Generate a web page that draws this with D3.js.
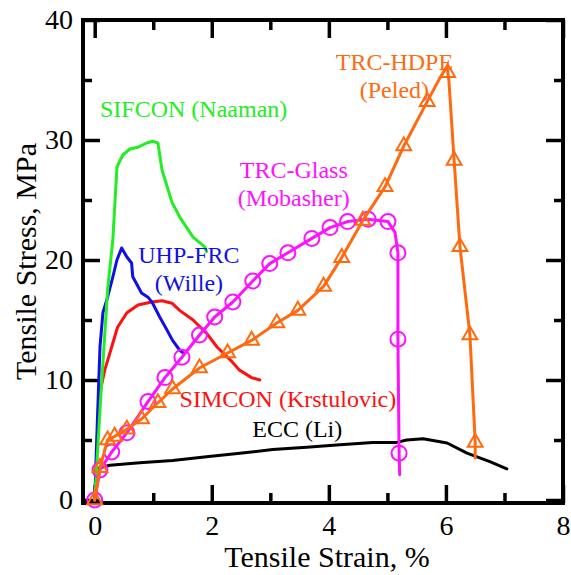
<!DOCTYPE html>
<html>
<head>
<meta charset="utf-8">
<script src="https://cdn.jsdelivr.net/npm/d3@7"></script>
<style>
  html, body { margin: 0; padding: 0; background: #fff; }
  svg { display: block; }
  text { font-family: "Liberation Serif", "Times New Roman", "DejaVu Serif", serif; }
</style>
</head>
<body>
<svg id="chart" width="571" height="575"></svg>
<script>
// ---------------- data (strain %, stress MPa) ----------------
const xMajorTicks = [0, 2, 4, 6, 8];
const xMinorTicks = [1, 3, 5, 7];
const yMajorTicks = [0, 10, 20, 30, 40];
const yMinorTicks = [5, 15, 25, 35];

const eccStrain   = [0, 0.03, 0.09, 0.26, 0.77, 1.33, 1.91, 2.48, 3.04, 3.62, 4.19, 4.75, 5.16, 5.33, 5.61, 6.02, 6.36, 6.75, 7.04];
const eccStress   = [0, 2.5, 2.7, 2.9, 3.1, 3.3, 3.6, 3.9, 4.2, 4.4, 4.6, 4.8, 4.8, 5.0, 5.1, 4.75, 3.9, 3.2, 2.6];

const simconStrain = [0, 0.03, 0.05, 0.10, 0.17, 0.29, 0.39, 0.55, 0.74, 0.97, 1.15, 1.32, 1.45, 1.68, 1.91, 2.09, 2.31, 2.48, 2.68, 2.82];
const simconStress = [0, 3.3, 5.8, 9.2, 10.8, 12.75, 14.4, 15.6, 16.25, 16.5, 16.6, 16.4, 15.8, 15.0, 13.9, 12.75, 11.7, 10.8, 10.2, 10.0];

const uhpStrain = [0, 0.05, 0.09, 0.14, 0.22, 0.31, 0.38, 0.46, 0.55, 0.63, 0.65, 0.80, 0.91, 0.99, 1.11, 1.23, 1.33, 1.45, 1.50];
const uhpStress = [0, 7.25, 12.75, 15.6, 16.9, 18.6, 20.0, 21.0, 20.25, 19.75, 18.6, 17.25, 16.9, 16.4, 15.25, 14.2, 13.3, 12.5, 12.3];

const sifconStrain = [0, 0.10, 0.22, 0.31, 0.38, 0.48, 0.60, 0.74, 0.89, 0.99, 1.08, 1.15, 1.32, 1.45, 1.68, 1.88, 1.91];
const sifconStress = [0, 8.3, 17.5, 21.7, 27.75, 28.75, 29.25, 29.4, 29.75, 29.9, 29.75, 27.5, 24.8, 23.6, 21.9, 21.1, 20.7];

const glassLineStrain = [0, 0.09, 0.29, 0.55, 0.91, 1.20, 1.49, 1.79, 2.05, 2.36, 2.70, 2.99, 3.30, 3.71, 4.02, 4.32, 4.67, 5.01, 5.13, 5.18, 5.18, 5.20, 5.21];
const glassLineStress = [0, 2.5, 4.0, 5.6, 8.2, 10.2, 11.9, 13.75, 15.25, 16.5, 18.25, 19.7, 20.6, 21.8, 22.7, 23.2, 23.4, 23.2, 22.3, 20.6, 13.4, 3.9, 2.1];
const glassMarkStrain = [0, 0.09, 0.29, 0.55, 0.91, 1.20, 1.49, 1.79, 2.05, 2.36, 2.70, 2.99, 3.30, 3.71, 4.02, 4.32, 4.67, 5.01, 5.18, 5.18, 5.20];
const glassMarkStress = [0, 2.5, 4.0, 5.6, 8.2, 10.2, 11.9, 13.75, 15.25, 16.5, 18.25, 19.7, 20.6, 21.8, 22.7, 23.2, 23.4, 23.2, 20.6, 13.4, 3.9];

const hdpeLineStrain = [0, 0.09, 0.22, 0.34, 0.55, 0.80, 1.08, 1.33, 1.79, 2.27, 2.68, 3.11, 3.47, 3.91, 4.22, 4.58, 4.96, 5.28, 5.68, 5.90, 6.02, 6.05, 6.14, 6.24, 6.41, 6.50, 6.50];
const hdpeLineStress = [0, 2.7, 5.0, 5.3, 5.9, 6.75, 8.1, 9.25, 11.0, 12.25, 13.3, 14.75, 15.8, 17.8, 20.2, 23.3, 26.1, 29.5, 33.2, 35.2, 36.1, 35.0, 28.3, 21.1, 13.75, 4.8, 3.5];
const hdpeMarkStrain = [0, 0.09, 0.22, 0.34, 0.55, 0.80, 1.08, 1.33, 1.79, 2.27, 2.68, 3.11, 3.47, 3.91, 4.22, 4.58, 4.96, 5.28, 5.68, 6.03, 6.14, 6.24, 6.41, 6.50];
const hdpeMarkStress = [0, 2.7, 5.0, 5.3, 5.9, 6.75, 8.1, 9.25, 11.0, 12.25, 13.3, 14.75, 15.8, 17.8, 20.2, 23.3, 26.1, 29.5, 33.2, 35.6, 28.3, 21.1, 13.75, 4.8];

const seriesLabels = [
  { lines: ["SIFCON (Naaman)"], x: 1.69, y: 31.9, color: "#22ee22" },
  { lines: ["UHP-FRC", "(Wille)"], x: 1.61, y: 19.75, color: "#1010e6" },
  { lines: ["TRC-Glass", "(Mobasher)"], x: 3.40, y: 26.8, color: "#ff10ff" },
  { lines: ["TRC-HDPE", "(Peled)"], x: 5.12, y: 35.8, color: "#ff6a10" },
  { lines: ["SIMCON (Krstulovic)"], x: 3.30, y: 7.75, color: "#ff1010" },
  { lines: ["ECC (Li)"], x: 3.46, y: 5.25, color: "#000000" }
];

// ---------------- chart ----------------
const svg = d3.select("#chart");
const FONT = "Liberation Serif, Times New Roman, DejaVu Serif, serif";
const L = 83, R = 563, T = 20, B = 503;
const x = d3.scaleLinear().domain([-0.2, 8]).range([L, R]);
const y = d3.scaleLinear().domain([-0.25, 40]).range([B, T]);

const zip = (a, b) => a.map((v, i) => [v, b[i]]);
const line = d3.line().x(d => x(d[0])).y(d => y(d[1]));

function styleAxis(g) {
  g.attr("font-family", FONT);
  g.select(".domain").remove();
  g.selectAll(".tick line").attr("stroke", "#000").attr("stroke-width", 3.5);
  g.selectAll(".tick text").attr("font-size", 28).attr("fill", "#000").attr("font-family", FONT);
}

// major & minor ticks (inward)
svg.append("g").attr("transform", `translate(0,${B})`)
  .call(d3.axisBottom(x).tickValues(xMajorTicks).tickSizeInner(-18).tickSizeOuter(0).tickPadding(12).tickFormat(d3.format("d")))
  .call(styleAxis);
svg.append("g").attr("transform", `translate(0,${B})`)
  .call(d3.axisBottom(x).tickValues(xMinorTicks).tickSizeInner(-10).tickSizeOuter(0).tickFormat(""))
  .call(styleAxis);
svg.append("g").attr("transform", `translate(0,${T})`)
  .call(d3.axisTop(x).tickValues(xMajorTicks).tickSizeInner(-18).tickSizeOuter(0).tickFormat(""))
  .call(styleAxis);
svg.append("g").attr("transform", `translate(0,${T})`)
  .call(d3.axisTop(x).tickValues(xMinorTicks).tickSizeInner(-10).tickSizeOuter(0).tickFormat(""))
  .call(styleAxis);
svg.append("g").attr("transform", `translate(${L},0)`)
  .call(d3.axisLeft(y).tickValues(yMajorTicks).tickSizeInner(-17).tickSizeOuter(0).tickPadding(10).tickFormat(d3.format("d")))
  .call(styleAxis);
svg.append("g").attr("transform", `translate(${L},0)`)
  .call(d3.axisLeft(y).tickValues(yMinorTicks).tickSizeInner(-9).tickSizeOuter(0).tickFormat(""))
  .call(styleAxis);
svg.append("g").attr("transform", `translate(${R},0)`)
  .call(d3.axisRight(y).tickValues(yMajorTicks).tickSizeInner(-17).tickSizeOuter(0).tickFormat(""))
  .call(styleAxis);
svg.append("g").attr("transform", `translate(${R},0)`)
  .call(d3.axisRight(y).tickValues(yMinorTicks).tickSizeInner(-9).tickSizeOuter(0).tickFormat(""))
  .call(styleAxis);

// frame
svg.append("rect").attr("x", L).attr("y", T).attr("width", R - L).attr("height", B - T)
  .attr("fill", "none").attr("stroke", "#000").attr("stroke-width", 4);

// curves
const curves = [
  { data: zip(eccStrain, eccStress), color: "#000000" },
  { data: zip(simconStrain, simconStress), color: "#ff1010" },
  { data: zip(uhpStrain, uhpStress), color: "#1010e6" },
  { data: zip(sifconStrain, sifconStress), color: "#22ee22" },
];
curves.forEach(c => {
  svg.append("path").datum(c.data).attr("d", line)
    .attr("fill", "none").attr("stroke", c.color).attr("stroke-width", 3)
    .attr("stroke-linejoin", "round").attr("stroke-linecap", "round");
});

// TRC-Glass
const glassColor = "#ff10ff";
svg.append("path").datum(zip(glassLineStrain, glassLineStress)).attr("d", line)
  .attr("fill", "none").attr("stroke", glassColor).attr("stroke-width", 3)
  .attr("stroke-linejoin", "round").attr("stroke-linecap", "round");
svg.append("g").selectAll("circle").data(zip(glassMarkStrain, glassMarkStress)).join("circle")
  .attr("cx", d => x(d[0])).attr("cy", d => y(d[1])).attr("r", 7.5)
  .attr("fill", "none").attr("stroke", glassColor).attr("stroke-width", 2);

// TRC-HDPE
const hdpeColor = "#ff6a10";
svg.append("path").datum(zip(hdpeLineStrain, hdpeLineStress)).attr("d", line)
  .attr("fill", "none").attr("stroke", hdpeColor).attr("stroke-width", 3)
  .attr("stroke-linejoin", "round").attr("stroke-linecap", "round");
const tri = d3.symbol().type(d3.symbolTriangle).size(95);
svg.append("g").selectAll("path").data(zip(hdpeMarkStrain, hdpeMarkStress)).join("path")
  .attr("d", tri)
  .attr("transform", d => `translate(${x(d[0])},${y(d[1])})`)
  .attr("fill", "none").attr("stroke", hdpeColor).attr("stroke-width", 2);

// series labels
seriesLabels.forEach(lb => {
  const t = svg.append("text").attr("x", x(lb.x)).attr("y", y(lb.y))
    .attr("text-anchor", "middle").attr("font-size", 24).attr("font-family", FONT).attr("fill", lb.color);
  lb.lines.forEach((s, i) => {
    t.append("tspan").attr("x", x(lb.x)).attr("dy", i === 0 ? 0 : 28).text(s);
  });
});

// axis titles
svg.append("text").attr("x", 327).attr("y", 567).attr("text-anchor", "middle")
  .attr("font-size", 30).attr("font-family", FONT).attr("fill", "#000").text("Tensile Strain, %");
svg.append("text").attr("transform", `translate(36,${(T + B) / 2}) rotate(-90)`)
  .attr("text-anchor", "middle").attr("font-size", 30).attr("font-family", FONT).attr("fill", "#000").text("Tensile Stress, MPa");
</script>
</body>
</html>
